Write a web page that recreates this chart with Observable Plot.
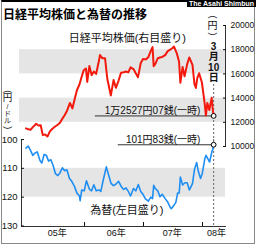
<!DOCTYPE html>
<html><head><meta charset="utf-8">
<script src="https://cdn.jsdelivr.net/npm/d3@7"></script>
<script src="https://cdn.jsdelivr.net/npm/@observablehq/plot@0.6"></script>
<style>
html,body{margin:0;padding:0;background:#fff;}
#wrap{position:relative;width:256px;height:248px;overflow:hidden;background:#fff;}
#frame{position:absolute;left:1px;top:0;width:252px;height:241px;border:1px solid #8a8a8a;border-top:2px solid #000;box-sizing:content-box;}
#brand{position:absolute;left:187px;top:0;width:67px;height:7px;padding-right:2px;background:#000;color:#fff;font:bold 7px/7px "Liberation Sans",sans-serif;text-align:right;white-space:nowrap;}
#title{position:absolute;left:3px;top:6px;font:bold 12px/15px "Noto Sans CJK JP",sans-serif;color:#000;white-space:nowrap;}
.layer{position:absolute;left:0;top:0;}
</style>
</head>
<body>
<div id="wrap">
  <div id="frame"></div>
  <div id="brand">The Asahi Shimbun</div>
  <div id="title">日経平均株価と為替の推移</div>
  <div id="nk" class="layer"></div>
  <div id="fx" class="layer"></div>
</div>
<script>
// ---------------- data ----------------
const nikkeiDates = [
 "2005-01-04","2005-01-18","2005-02-01","2005-02-15","2005-03-01","2005-03-08","2005-03-22","2005-04-05","2005-04-18","2005-05-02","2005-05-17","2005-06-01","2005-06-15","2005-07-01","2005-07-15","2005-08-01","2005-08-15","2005-09-01","2005-09-15","2005-10-03","2005-10-18","2005-11-01","2005-11-15","2005-12-01","2005-12-13","2005-12-27",
 "2006-01-10","2006-01-18","2006-01-31","2006-02-14","2006-02-28","2006-03-14","2006-03-31","2006-04-07","2006-04-21","2006-05-08","2006-05-22","2006-06-13","2006-06-30","2006-07-14","2006-07-31","2006-08-15","2006-08-31","2006-09-15","2006-09-29","2006-10-13","2006-10-31","2006-11-14","2006-11-28","2006-12-15","2006-12-29",
 "2007-01-15","2007-01-31","2007-02-15","2007-02-26","2007-03-05","2007-03-16","2007-03-30","2007-04-13","2007-04-27","2007-05-15","2007-05-31","2007-06-15","2007-06-29","2007-07-09","2007-07-26","2007-08-09","2007-08-17","2007-08-31","2007-09-12","2007-09-28","2007-10-11","2007-10-31","2007-11-12","2007-11-21","2007-11-30","2007-12-11","2007-12-28",
 "2008-01-15","2008-01-22","2008-01-31","2008-02-12","2008-02-27","2008-03-05","2008-03-10"];
const nikkeiValues = [
 11500,11420,11380,11600,11780,11880,11740,11750,10940,11000,10830,11250,11450,11630,11760,11950,12260,12600,12960,13600,13150,13900,14650,15130,15700,16300,
 16450,15340,16650,15900,16200,16000,17060,17560,17300,17300,15600,14220,15500,14850,15450,16100,16140,16200,16130,16540,16400,16050,15730,16900,17230,
 17200,17380,17900,18215,16640,16850,17290,17360,17400,17550,17880,18000,18140,18260,17700,17000,15270,16570,15800,16790,17360,16740,15200,14840,15680,16050,15310,
 13500,12570,13590,13020,14030,12990,12527];

const usdJpyDates = [
 "2005-01-04","2005-01-18","2005-02-01","2005-02-15","2005-03-01","2005-03-15","2005-03-31","2005-04-12","2005-04-26","2005-05-10","2005-05-24","2005-06-07","2005-06-21","2005-07-05","2005-07-20","2005-08-03","2005-08-17","2005-08-31","2005-09-14","2005-09-30","2005-10-14","2005-10-31","2005-11-15","2005-11-30","2005-12-05","2005-12-15","2005-12-30",
 "2006-01-13","2006-01-31","2006-02-14","2006-02-28","2006-03-14","2006-03-31","2006-04-12","2006-04-28","2006-05-16","2006-05-31","2006-06-14","2006-06-29","2006-07-14","2006-07-31","2006-08-15","2006-08-31","2006-09-15","2006-09-29","2006-10-13","2006-10-31","2006-11-15","2006-11-30","2006-12-15","2006-12-29",
 "2007-01-12","2007-01-31","2007-02-15","2007-02-26","2007-03-05","2007-03-15","2007-03-30","2007-04-13","2007-04-27","2007-05-15","2007-05-31","2007-06-15","2007-06-22","2007-07-06","2007-07-20","2007-07-31","2007-08-10","2007-08-17","2007-08-31","2007-09-14","2007-09-28","2007-10-12","2007-10-31","2007-11-12","2007-11-26","2007-12-07","2007-12-20","2007-12-31",
 "2008-01-15","2008-01-23","2008-01-31","2008-02-14","2008-02-29","2008-03-05","2008-03-10"];
const usdJpyValues = [
 103.0,102.3,103.8,105.5,104.7,104.3,107.2,108.2,105.2,105.5,107.5,107.0,109.0,111.8,112.5,111.5,109.8,110.8,110.5,113.5,114.5,116.3,118.6,119.5,121.2,117.5,117.8,
 114.3,117.2,117.8,115.7,117.8,117.5,118.0,113.8,109.5,112.5,115.2,116.0,115.5,114.5,116.2,117.3,116.8,118.0,119.6,117.0,117.8,115.6,118.0,119.0,
 120.5,121.4,120.0,120.5,115.9,117.0,117.8,119.8,119.0,120.5,121.7,123.5,124.0,123.0,121.8,118.6,118.5,113.0,115.8,115.0,115.0,117.5,115.3,110.5,108.0,111.2,113.5,111.7,
 106.8,105.5,106.4,107.8,104.0,103.5,101.83];

const yenTicks = [100, 110, 120, 130];
const nikkeiTicks = [10000, 12000, 14000, 16000, 18000, 20000];
const yearTickDates = ["2006-01-01", "2007-01-01", "2008-01-01"];
const yearLabelDates = ["2005-07-17", "2006-07-17", "2007-06-28", "2008-03-27"];
const yearLabels = ["05年", "06年", "07年", "08年"];
const nikkeiBands = [[12000, 14000], [16000, 18000]];
const yenBands = [[110, 120]];

const markerDate = "2008-03-10";
const nikkeiLow = 12527;
const yenHigh = 101.83;
const nikkeiLowText = "1万2527円07銭(一時)";
const yenHighText = "101円83銭(一時)";
const nikkeiTitle = "日経平均株価(右目盛り)";
const yenTitle = "為替(左目盛り)";
const markerLabel = "3\n月\n10\n日";
const rightUnitGlyphs = ["(", "円", ")"];
const leftUnitGlyphs = ["(", "円", "/", "ド", "ル", ")"];

// annotation anchors (data space) and glyph layout
const nkLineStart = "2006-03-09", fxLineStart = "2006-07-29", noteEnd = "2007-12-19";
const markerTop = 15207, markerLabelY = 16983;
const nikkeiTitlePos = {date: "2006-09-23", value: 18950};
const yenTitlePos = {date: "2006-09-20", value: 124.65};
const rightUnitPos = {date: "2008-03-03", value: 20000};
const leftUnitPos = {date: "2004-09-12", value: 89.2};
const rightUnitLayout = [{dy: -8.5, size: 9, rotate: 90}, {dy: 0, size: 10, rotate: 0}, {dy: 8.5, size: 9, rotate: 90}];
const leftUnitLayout = [{dy: -16.5, size: 9, rotate: 90}, {dy: -10, size: 9.5, rotate: 0}, {dy: -1.5, size: 7, rotate: 0}, {dy: 5.5, size: 7, rotate: 0}, {dy: 12.5, size: 7, rotate: 0}, {dy: 19.5, size: 9, rotate: 90}];

// ---------------- build ----------------
const P = d3.utcParse("%Y-%m-%d");
const nikkei = nikkeiDates.map((d, i) => ({date: P(d), value: nikkeiValues[i]}));
const usdJpy = usdJpyDates.map((d, i) => ({date: P(d), value: usdJpyValues[i]}));
const labelMap = new Map(yearLabelDates.map((d, i) => [+P(d), yearLabels[i]]));
const FONT = '"Liberation Sans","Noto Sans CJK JP",sans-serif';
const RED = "#f3190c", BLUE = "#1f8ef2", BAND = "#e5e5e5", INK = "#111";

const xScale = {type: "utc", domain: [P("2005-01-01"), P("2008-01-01")], range: [25, 202]};
const common = {
  width: 256, height: 248, marginLeft: 21, marginRight: 31,
  style: {background: "transparent", overflow: "visible", fontFamily: FONT, color: INK}
};

const glyphMarks = (glyphs, layout, pos) => glyphs.map((g, i) =>
  Plot.text([g], {x: P(pos.date), y: pos.value, text: d => d, dy: layout[i].dy, fontSize: layout[i].size,
                  rotate: layout[i].rotate, fontFamily: FONT, fill: INK}));

const nk = Plot.plot({
  ...common,
  marginTop: 25, marginBottom: 102,
  x: {...xScale, axis: null},
  y: {domain: [10000, 20000], range: [146, 25]},
  marks: [
    Plot.rect(nikkeiBands, {y1: d => d[0], y2: d => d[1], fill: BAND, insetLeft: -2}),
    Plot.ruleX([markerDate], {x: d => P(d), y1: 10000, y2: markerTop, stroke: "#666", strokeDasharray: "2,2"}),
    Plot.ruleY([nikkeiLow], {x1: P(nkLineStart), x2: P(markerDate), stroke: "#333"}),
    Plot.line(nikkei, {x: "date", y: "value", stroke: RED, strokeWidth: 2}),
    Plot.dot([nikkeiLow], {x: P(markerDate), y: d => d, r: 2.4, fill: "#fff", stroke: "#000", strokeWidth: 1}),
    Plot.text([nikkeiLowText], {x: P(noteEnd), y: nikkeiLow, text: d => d, textAnchor: "end", lineAnchor: "bottom", dy: -2, fontSize: 10, fontFamily: FONT, fill: INK}),
    Plot.text([nikkeiTitle], {x: P(nikkeiTitlePos.date), y: nikkeiTitlePos.value, text: d => d, fontSize: 11, fontFamily: FONT, fill: INK}),
    Plot.text([markerLabel], {x: P(markerDate), y: markerLabelY, text: d => d, fontSize: 10, lineHeight: 1.05, fontWeight: "bold", fontFamily: FONT, fill: INK}),
    ...glyphMarks(rightUnitGlyphs, rightUnitLayout, rightUnitPos),
    Plot.frame({anchor: "right", stroke: "#333"}),
    Plot.axisY({anchor: "right", ticks: nikkeiTicks, tickSize: -3, tickPadding: 8, tickFormat: d3.format("d"), fontSize: 8.5, label: null})
  ]
});

const fx = Plot.plot({
  ...common,
  marginTop: 139, marginBottom: 22,
  x: xScale,
  y: {domain: [100, 130], range: [139, 225.5]},
  marks: [
    Plot.rect(yenBands, {y1: d => d[0], y2: d => d[1], fill: BAND}),
    Plot.ruleX([markerDate], {x: d => P(d), y1: 100, y2: 130, stroke: "#666", strokeDasharray: "2,2"}),
    Plot.ruleY([yenHigh], {x1: P(fxLineStart), x2: P(markerDate), stroke: "#333"}),
    Plot.line(usdJpy, {x: "date", y: "value", stroke: BLUE, strokeWidth: 1.6}),
    Plot.dot([yenHigh], {x: P(markerDate), y: d => d, r: 2.4, fill: "#fff", stroke: "#000", strokeWidth: 1}),
    Plot.text([yenHighText], {x: P(noteEnd), y: yenHigh, text: d => d, textAnchor: "end", lineAnchor: "bottom", dy: -2, fontSize: 10, fontFamily: FONT, fill: INK}),
    Plot.text([yenTitle], {x: P(yenTitlePos.date), y: yenTitlePos.value, text: d => d, fontSize: 11, fontFamily: FONT, fill: INK}),
    ...glyphMarks(leftUnitGlyphs, leftUnitLayout, leftUnitPos),
    Plot.frame({anchor: "left", stroke: "#333"}),
    Plot.frame({anchor: "bottom", stroke: "#333"}),
    Plot.axisY({anchor: "left", ticks: yenTicks, tickSize: -3, tickPadding: 7, fontSize: 9.5, label: null}),
    Plot.axisX({anchor: "bottom", ticks: yearTickDates.map(P), tickSize: -4, tickFormat: () => "", label: null}),
    Plot.axisX({anchor: "bottom", ticks: yearLabelDates.map(P), tickSize: 0, tickPadding: 3, tickFormat: d => labelMap.get(+d), fontSize: 9, label: null})
  ]
});

document.getElementById("nk").appendChild(nk);
document.getElementById("fx").appendChild(fx);
</script>
</body></html>
